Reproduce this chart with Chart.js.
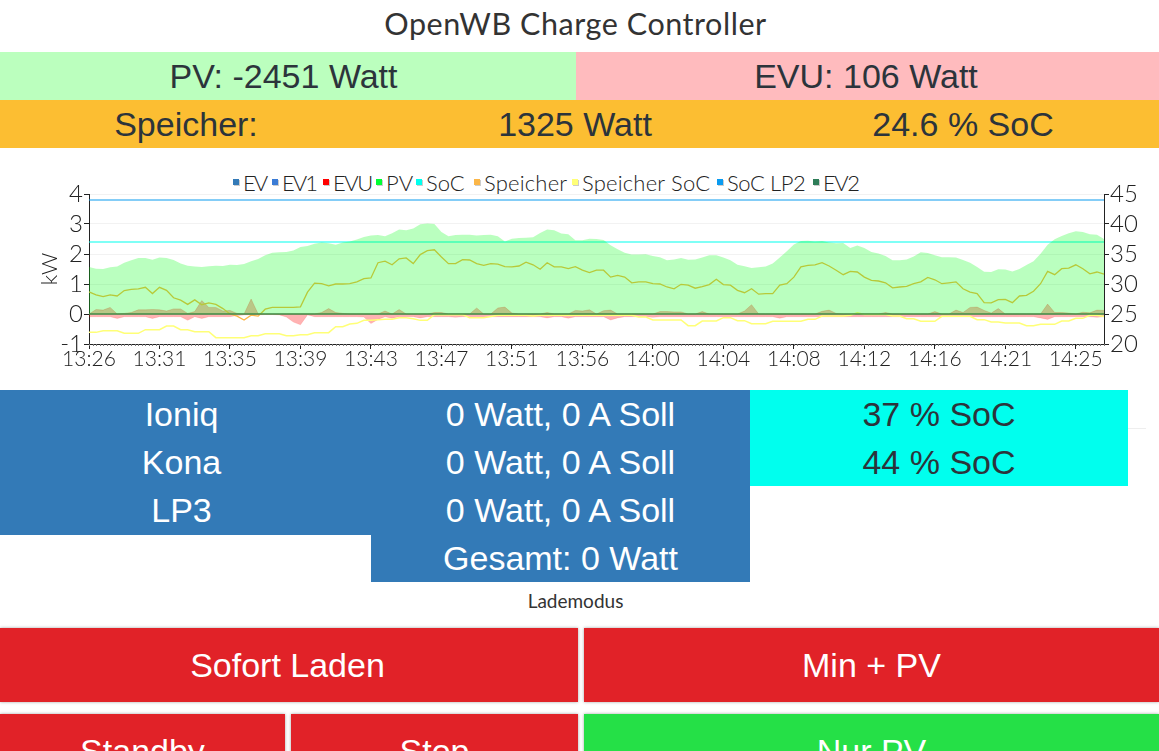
<!DOCTYPE html>
<html>
<head>
<meta charset="utf-8">
<title>OpenWB Charge Controller</title>
<script src="https://cdn.jsdelivr.net/npm/chart.js@4"></script>
<style>
  html, body { margin: 0; padding: 0; background: #fff; overflow: hidden; width: 1159px; height: 751px; }
  .box { position: absolute; display: flex; align-items: center; justify-content: center;
         font-family: "Liberation Sans", sans-serif; font-size: 34px; color: #2c343b; white-space: nowrap; }
  .white { color: #fff; }
  .blue { background: #337ab7; }
  .cyan { background: #00ffee; }
  .btn { box-shadow: 0 0 3px rgba(0,0,0,0.35); color: #fff; }
  #chart-wrap { position: absolute; left: 0; top: 165px; width: 1159px; height: 209px; }
  #legend { position: absolute; left: 233px; top: 168px; display: flex; align-items: center; height: 28px;
            font-family: Lato, sans-serif; font-weight: 300; font-size: 22px; color: #222; white-space: nowrap; }
  #legend span.item { display: flex; align-items: center; }
  #legend span.swatch { width: 6px; height: 6px; margin-right: 4px; box-shadow: 1px 1px 0 #ccc; flex: none; }
</style>
</head>
<body>
<div class="box" style="left:0;top:-2px;width:1151px;height:50px;font-family:Lato,sans-serif;font-size:30.5px;letter-spacing:0.55px;color:#333">OpenWB Charge Controller</div>

<div class="box" style="left:0;top:52px;width:576px;height:48px;background:#bbffbe"></div>
<div class="box" style="left:0;top:52px;width:567px;height:48px">PV: -2451 Watt</div>
<div class="box" style="left:576px;top:52px;width:583px;height:48px;background:#ffbbbe;padding-right:3px;box-sizing:border-box">EVU: 106 Watt</div>
<div class="box" style="left:0;top:100px;width:1159px;height:48px;background:#fcbe32"></div>
<div class="box" style="left:0;top:100px;width:372px;height:48px">Speicher:</div>
<div class="box" style="left:375px;top:100px;width:400px;height:48px">1325 Watt</div>
<div class="box" style="left:763px;top:100px;width:400px;height:48px">24.6 % SoC</div>

<div id="legend"></div>
<div id="chart-wrap"><canvas id="chart"></canvas></div>

<div class="box blue white" style="left:0;top:390px;width:363px;height:48px">Ioniq</div>
<div class="box blue white" style="left:0;top:438px;width:363px;height:48px">Kona</div>
<div class="box blue white" style="left:0;top:486px;width:363px;height:49px">LP3</div>
<div class="box blue" style="left:360px;top:390px;width:12px;height:145px"></div>
<div class="box blue white" style="left:371px;top:390px;width:379px;height:48px">0 Watt, 0 A Soll</div>
<div class="box blue white" style="left:371px;top:438px;width:379px;height:48px">0 Watt, 0 A Soll</div>
<div class="box blue white" style="left:371px;top:486px;width:379px;height:48px">0 Watt, 0 A Soll</div>
<div class="box blue white" style="left:371px;top:534px;width:379px;height:48px">Gesamt: 0 Watt</div>
<div class="box cyan" style="left:750px;top:390px;width:378px;height:48px">37 % SoC</div>
<div class="box cyan" style="left:750px;top:438px;width:378px;height:48px">44 % SoC</div>
<div style="position:absolute;left:1128px;top:428px;width:18px;height:1px;background:#eee"></div>

<div class="box" style="left:0;top:589px;width:1151px;height:22px;font-family:Lato,sans-serif;font-size:19px;color:#333">Lademodus</div>

<div class="box btn" style="left:0;top:628px;width:578px;height:74px;background:#e12228"></div>
<div class="box white" style="left:0;top:628px;width:575px;height:74px">Sofort Laden</div>
<div class="box btn" style="left:584px;top:628px;width:575px;height:74px;background:#e12228">Min + PV</div>
<div class="box btn" style="left:0;top:714px;width:285px;height:74px;background:#e12228">Standby</div>
<div class="box btn" style="left:291px;top:714px;width:287px;height:74px;background:#e12228">Stop</div>
<div class="box btn" style="left:584px;top:714px;width:575px;height:74px;background:#25e047">Nur PV</div>

<script>
// ---------------------------------------------------------------
//  Data
// ---------------------------------------------------------------
const tickLabels = ["13:26", "13:31", "13:35", "13:39", "13:43", "13:47", "13:51", "13:56",
                    "14:00", "14:04", "14:08", "14:12", "14:16", "14:21", "14:25"];

// kW
const pvValues = [
  1.57, 1.51, 1.50, 1.56, 1.58, 1.71, 1.79, 1.87, 1.87, 1.81,
  1.88, 1.87, 1.80, 1.68, 1.61, 1.58, 1.57, 1.59, 1.61, 1.60,
  1.64, 1.63, 1.67, 1.76, 1.83, 1.96, 2.04, 2.06, 2.07, 2.12,
  2.23, 2.27, 2.34, 2.38, 2.36, 2.31, 2.38, 2.42, 2.48, 2.57,
  2.62, 2.63, 2.59, 2.69, 2.82, 2.79, 2.85, 2.99, 3.02, 3.00,
  2.73, 2.59, 2.63, 2.64, 2.64, 2.62, 2.63, 2.64, 2.59, 2.42,
  2.51, 2.53, 2.54, 2.56, 2.70, 2.82, 2.79, 2.68, 2.66, 2.46,
  2.46, 2.51, 2.50, 2.47, 2.29, 2.16, 2.04, 1.98, 1.98, 1.99,
  1.93, 1.89, 1.79, 1.82, 1.87, 1.81, 1.82, 1.88, 1.96, 1.96,
  1.88, 1.79, 1.64, 1.59, 1.53, 1.56, 1.58, 1.68, 1.88, 2.09,
  2.32, 2.43, 2.44, 2.42, 2.43, 2.38, 2.36, 2.37, 2.20, 2.28,
  2.20, 2.07, 2.02, 1.93, 1.79, 1.79, 1.82, 1.92, 2.06, 2.03,
  1.96, 1.89, 1.89, 1.88, 1.80, 1.71, 1.57, 1.41, 1.40, 1.49,
  1.48, 1.42, 1.50, 1.63, 1.76, 2.01, 2.31, 2.49, 2.60, 2.69,
  2.76, 2.73, 2.66, 2.64, 2.50
];
const speicherValues = [
  0.74, 0.64, 0.58, 0.64, 0.60, 0.78, 0.82, 0.84, 0.89, 0.68,
  0.89, 0.79, 0.54, 0.46, 0.32, 0.47, 0.31, 0.37, 0.32, 0.18,
  0.00, -0.07, -0.20, -0.04, -0.07, 0.16, 0.22, 0.22, 0.22, 0.22,
  0.24, 0.73, 1.03, 1.01, 0.94, 1.00, 1.00, 1.01, 1.07, 1.18,
  1.20, 1.71, 1.76, 1.64, 1.84, 1.87, 1.68, 1.98, 2.11, 2.14,
  1.90, 1.68, 1.68, 1.81, 1.80, 1.68, 1.62, 1.68, 1.66, 1.58,
  1.57, 1.60, 1.73, 1.64, 1.49, 1.71, 1.57, 1.57, 1.51, 1.58,
  1.46, 1.38, 1.46, 1.46, 1.23, 1.29, 1.23, 1.04, 1.07, 1.07,
  1.01, 1.00, 0.90, 0.84, 0.99, 0.96, 0.86, 0.91, 0.98, 1.16,
  0.98, 0.96, 0.79, 0.71, 0.84, 0.66, 0.68, 0.68, 0.96, 1.01,
  1.23, 1.57, 1.62, 1.64, 1.71, 1.60, 1.46, 1.31, 1.42, 1.40,
  1.23, 1.12, 1.10, 1.04, 0.87, 0.90, 0.92, 1.01, 1.07, 1.22,
  1.14, 1.01, 1.04, 1.07, 0.84, 0.73, 0.68, 0.38, 0.37, 0.48,
  0.49, 0.38, 0.60, 0.62, 0.76, 1.01, 1.42, 1.31, 1.51, 1.53,
  1.64, 1.51, 1.34, 1.40, 1.33
];
const evuValues = [
  0.00, 0.15, 0.13, 0.22, 0.00, 0.02, 0.05, 0.14, 0.14, 0.15,
  0.14, 0.10, 0.17, 0.17, 0.02, 0.08, 0.45, 0.22, 0.22, 0.10,
  0.12, 0.02, 0.00, 0.50, 0.00, 0.00, 0.00, 0.00, 0.00, 0.00,
  0.00, 0.00, 0.00, 0.05, 0.18, 0.05, 0.02, 0.00, 0.00, 0.00,
  0.00, 0.00, 0.10, 0.00, 0.15, 0.00, 0.00, 0.00, 0.00, 0.05,
  0.05, 0.00, 0.00, 0.00, 0.00, 0.20, 0.00, 0.00, 0.20, 0.23,
  0.03, 0.00, 0.00, 0.00, 0.00, 0.05, 0.00, 0.00, 0.00, 0.12,
  0.10, 0.14, 0.00, 0.11, 0.13, 0.00, 0.00, 0.00, 0.00, 0.00,
  0.00, 0.08, 0.08, 0.07, 0.07, 0.00, 0.00, 0.08, 0.00, 0.00,
  0.00, 0.00, 0.00, 0.10, 0.31, 0.00, 0.00, 0.00, 0.00, 0.00,
  0.00, 0.00, 0.00, 0.00, 0.09, 0.13, 0.02, 0.00, 0.00, 0.00,
  0.00, 0.00, 0.00, 0.05, 0.00, 0.00, 0.00, 0.00, 0.00, 0.00,
  0.08, 0.00, 0.00, 0.13, 0.05, 0.22, 0.23, 0.12, 0.03, 0.18,
  0.00, 0.00, 0.00, 0.00, 0.00, 0.00, 0.33, 0.05, 0.05, 0.03,
  0.00, 0.06, 0.04, 0.13, 0.12
];
// the pale red band that runs just under the zero line, with its dips
const evuBand = [
  -0.09, -0.09, -0.09, -0.09, -0.15, -0.09, -0.09, -0.09, -0.09, -0.15,
  -0.09, -0.09, -0.09, -0.09, -0.21, -0.09, -0.15, -0.09, -0.09, -0.09,
  -0.09, -0.05, -0.03, -0.03, -0.03, -0.02, -0.02, -0.03, -0.10, -0.27,
  -0.36, -0.03, -0.09, -0.09, -0.09, -0.09, -0.09, -0.09, -0.09, -0.10,
  -0.32, -0.18, -0.09, -0.14, -0.09, -0.09, -0.09, -0.13, -0.09, -0.09,
  -0.09, -0.09, -0.11, -0.09, -0.09, -0.09, -0.09, -0.09, -0.09, -0.09,
  -0.09, -0.09, -0.09, -0.09, -0.09, -0.13, -0.09, -0.09, -0.14, -0.09,
  -0.09, -0.09, -0.09, -0.09, -0.20, -0.13, -0.09, -0.09, -0.09, -0.09,
  -0.11, -0.09, -0.09, -0.09, -0.09, -0.09, -0.09, -0.09, -0.09, -0.09,
  -0.09, -0.09, -0.09, -0.09, -0.09, -0.09, -0.09, -0.09, -0.14, -0.09,
  -0.09, -0.09, -0.09, -0.09, -0.09, -0.09, -0.09, -0.09, -0.09, -0.09,
  -0.09, -0.09, -0.09, -0.09, -0.09, -0.09, -0.09, -0.09, -0.09, -0.09,
  -0.09, -0.09, -0.09, -0.09, -0.09, -0.09, -0.09, -0.09, -0.09, -0.09,
  -0.09, -0.09, -0.09, -0.09, -0.09, -0.13, -0.18, -0.09, -0.09, -0.09,
  -0.09, -0.09, -0.09, -0.11, -0.09
];
// three charge points, all idle
const evIdle = [
  0, 0, 0, 0, 0, 0, 0, 0, 0, 0, 0, 0, 0, 0, 0, 0, 0, 0, 0, 0,
  0, 0, 0, 0, 0, 0, 0, 0, 0, 0, 0, 0, 0, 0, 0, 0, 0, 0, 0, 0,
  0, 0, 0, 0, 0, 0, 0, 0, 0, 0, 0, 0, 0, 0, 0, 0, 0, 0, 0, 0,
  0, 0, 0, 0, 0, 0, 0, 0, 0, 0, 0, 0, 0, 0, 0, 0, 0, 0, 0, 0,
  0, 0, 0, 0, 0, 0, 0, 0, 0, 0, 0, 0, 0, 0, 0, 0, 0, 0, 0, 0,
  0, 0, 0, 0, 0, 0, 0, 0, 0, 0, 0, 0, 0, 0, 0, 0, 0, 0, 0, 0,
  0, 0, 0, 0, 0, 0, 0, 0, 0, 0, 0, 0, 0, 0, 0, 0, 0, 0, 0, 0,
  0, 0, 0, 0, 0
];

// percent, right axis
const speicherSoc = [
  21.94, 21.94, 22.22, 22.22, 22.22, 21.78, 21.78, 21.78, 22.39, 22.39,
  22.39, 23.00, 23.00, 22.39, 22.39, 22.06, 22.06, 22.06, 21.06, 21.06,
  21.06, 21.06, 21.06, 21.39, 21.39, 21.72, 21.72, 21.72, 21.39, 21.39,
  21.56, 21.56, 21.89, 21.89, 21.89, 22.89, 22.89, 23.33, 23.44, 23.94,
  23.94, 24.06, 24.11, 24.11, 24.39, 24.39, 24.22, 23.94, 23.94, 24.89,
  24.89, 24.89, 24.89, 24.89, 24.39, 24.39, 24.39, 24.60, 24.78, 24.78,
  24.78, 24.78, 24.78, 24.67, 24.78, 24.78, 24.78, 24.78, 24.78, 24.78,
  24.78, 24.78, 24.78, 24.78, 24.78, 24.78, 24.78, 24.78, 24.50, 24.50,
  24.00, 24.00, 24.00, 24.00, 24.00, 23.06, 23.06, 23.83, 23.83, 23.83,
  24.39, 24.39, 23.89, 23.89, 23.39, 23.39, 23.39, 23.78, 23.78, 23.78,
  23.78, 23.78, 24.11, 24.11, 24.67, 24.67, 24.67, 24.67, 24.80, 25.20,
  24.90, 24.90, 24.90, 24.90, 24.67, 24.67, 24.22, 24.22, 23.78, 23.78,
  23.78, 24.61, 24.61, 24.61, 24.61, 24.61, 24.06, 24.06, 23.67, 23.67,
  23.50, 23.50, 23.50, 23.06, 23.06, 23.28, 23.28, 23.28, 23.83, 23.83,
  24.28, 24.28, 24.78, 24.78, 24.60
];
const socLp1 = [
  37, 37, 37, 37, 37, 37, 37, 37, 37, 37, 37, 37, 37, 37, 37, 37, 37, 37, 37, 37,
  37, 37, 37, 37, 37, 37, 37, 37, 37, 37, 37, 37, 37, 37, 37, 37, 37, 37, 37, 37,
  37, 37, 37, 37, 37, 37, 37, 37, 37, 37, 37, 37, 37, 37, 37, 37, 37, 37, 37, 37,
  37, 37, 37, 37, 37, 37, 37, 37, 37, 37, 37, 37, 37, 37, 37, 37, 37, 37, 37, 37,
  37, 37, 37, 37, 37, 37, 37, 37, 37, 37, 37, 37, 37, 37, 37, 37, 37, 37, 37, 37,
  37, 37, 37, 37, 37, 37, 37, 37, 37, 37, 37, 37, 37, 37, 37, 37, 37, 37, 37, 37,
  37, 37, 37, 37, 37, 37, 37, 37, 37, 37, 37, 37, 37, 37, 37, 37, 37, 37, 37, 37,
  37, 37, 37, 37, 37
];
const socLp2 = [
  44, 44, 44, 44, 44, 44, 44, 44, 44, 44, 44, 44, 44, 44, 44, 44, 44, 44, 44, 44,
  44, 44, 44, 44, 44, 44, 44, 44, 44, 44, 44, 44, 44, 44, 44, 44, 44, 44, 44, 44,
  44, 44, 44, 44, 44, 44, 44, 44, 44, 44, 44, 44, 44, 44, 44, 44, 44, 44, 44, 44,
  44, 44, 44, 44, 44, 44, 44, 44, 44, 44, 44, 44, 44, 44, 44, 44, 44, 44, 44, 44,
  44, 44, 44, 44, 44, 44, 44, 44, 44, 44, 44, 44, 44, 44, 44, 44, 44, 44, 44, 44,
  44, 44, 44, 44, 44, 44, 44, 44, 44, 44, 44, 44, 44, 44, 44, 44, 44, 44, 44, 44,
  44, 44, 44, 44, 44, 44, 44, 44, 44, 44, 44, 44, 44, 44, 44, 44, 44, 44, 44, 44,
  44, 44, 44, 44, 44
];

// one label slot per reading, only every 10th carries a time
const categories = pvValues.map((v, i) => (i % 10 === 0 ? tickLabels[i / 10] : ""));

// ---------------------------------------------------------------
//  Chart
// ---------------------------------------------------------------
const FONT = "Lato, sans-serif";
const AXIS_INK = "#222";

// Inline plugin: the short minor ticks along the time axis
const minorTicks = {
  id: "minorTicks",
  afterDraw(chart) {
    const { ctx: c, scales: { x } } = chart;
    c.save();
    c.strokeStyle = "#777";
    c.lineWidth = 1;
    c.beginPath();
    for (let v = 0; v <= categories.length - 1; v += 0.5) {
      const px = Math.round(x.getPixelForValue(v)) + 0.5;
      c.moveTo(px, x.top);
      c.lineTo(px, x.top + 2);
    }
    c.stroke();
    c.restore();
  },
};

function line(label, data, color, extra) {
  return Object.assign({
    label, data, legendColor: color, borderColor: color, backgroundColor: color,
    borderWidth: 1.5, pointRadius: 0, tension: 0, fill: false, yAxisID: "y",
  }, extra);
}

const chart = new Chart(document.getElementById("chart"), {
  type: "line",
  data: {
    labels: categories,
    datasets: [
      line("EV", evIdle, "#337ab7", { order: 5, borderColor: "transparent" }),
      line("EV1", evIdle, "#3a7bd5", { order: 5, borderColor: "transparent" }),
      line("EVU", evuValues, "#ff0000", { order: 4, borderColor: "rgba(255,0,0,0.2)", backgroundColor: "rgba(255,0,0,0.3)", fill: "origin", borderWidth: 1 }),
      line("PV", pvValues, "#00ff33", { order: 1, borderColor: "transparent", backgroundColor: "rgba(0,255,20,0.27)", fill: "origin" }),
      line("SoC", socLp1, "#00ffee", { order: 3, yAxisID: "y1", borderWidth: 1.2 }),
      line("Speicher", speicherValues, "#fbb648", { order: 3, borderWidth: 1.3 }),
      line("Speicher SoC", speicherSoc, "#ffff77", { order: 3, yAxisID: "y1" }),
      line("SoC LP2", socLp2, "#0a9bf0", { order: 3, yAxisID: "y1", borderWidth: 1.2 }),
      line("EV2", evIdle, "#2e7d58", { order: 0, borderColor: "#3c8c46", borderWidth: 1.6 }),
      line("EVU band", evuBand, "#ff0000", { order: 4, borderColor: "rgba(255,0,0,0.12)", backgroundColor: "rgba(255,0,0,0.3)", fill: "origin", borderWidth: 1 }),
    ],
  },
  options: {
    responsive: true,
    maintainAspectRatio: false,
    animation: false,
    layout: { padding: { top: 29 } },
    scales: {
      x: {
        offset: false,
        afterFit: s => { s.height = 30; },
        border: { color: AXIS_INK, width: 1 },
        grid: { drawOnChartArea: false, tickLength: 5,
                tickColor: ctx => (ctx.index % 10 === 0 ? AXIS_INK : "transparent") },
        ticks: {
          color: AXIS_INK, font: { family: FONT, size: 21, weight: 300 },
          autoSkip: false, maxRotation: 0, padding: -2,
          callback: (v, i) => categories[i],
        },
      },
      y: {
        position: "left",
        min: -1, max: 4,
        afterFit: s => { s.width = 89; },
        border: { color: AXIS_INK, width: 1 },
        grid: { color: "#f2f2f2", tickColor: AXIS_INK, tickLength: 5 },
        title: { display: true, text: "kW", color: AXIS_INK, font: { family: FONT, size: 22, weight: 300 }, padding: { top: 37, bottom: 0 } },
        ticks: { color: AXIS_INK, font: { family: FONT, size: 24, weight: 300 }, stepSize: 1, padding: 1, autoSkip: false },
      },
      y1: {
        position: "right",
        min: 20, max: 45,
        afterFit: s => { s.width = 55; },
        border: { color: AXIS_INK, width: 1 },
        grid: { drawOnChartArea: false, tickColor: AXIS_INK, tickLength: 5 },
        ticks: { color: AXIS_INK, font: { family: FONT, size: 24, weight: 300 }, stepSize: 5, padding: 1, autoSkip: false },
      },
    },
    plugins: {
      tooltip: { enabled: false },
      legend: { display: false },
    },
  },
  plugins: [minorTicks],
});

// ---------------------------------------------------------------
//  HTML legend, so box and text can sit as tight as in the original
// ---------------------------------------------------------------
const legendBox = document.getElementById("legend");
const legendWidths = [39, 51, 53, 40, 58, 98, 145, 96, 45];
const legendSpacing = [-2, -2, -1.5, 0, 0, 0.2, 0.2, -0.4, -1.5];
chart.data.datasets.filter(ds => ds.label !== "EVU band").forEach((ds, i) => {
  const item = document.createElement("span");
  item.className = "item";
  item.style.width = legendWidths[i] + "px";
  item.style.letterSpacing = legendSpacing[i] + "px";
  const swatch = document.createElement("span");
  swatch.className = "swatch";
  swatch.style.background = ds.legendColor;
  item.append(swatch, ds.label);
  legendBox.append(item);
});
</script>
</body>
</html>
